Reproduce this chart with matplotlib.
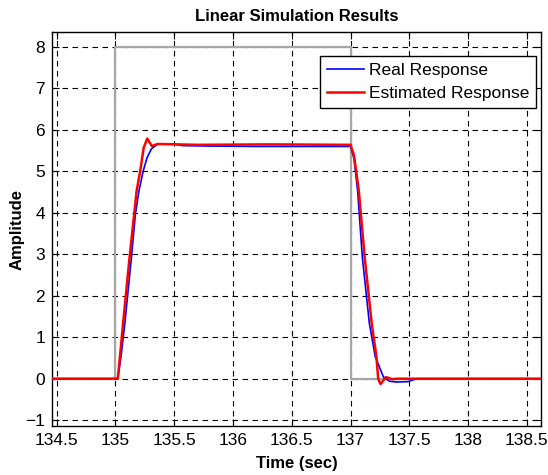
import matplotlib.pyplot as plt

plt.rcParams['font.family'] = ['Liberation Sans', 'DejaVu Sans']

# input step
t_in = [134.46, 135.0, 135.0, 137.0, 137.0, 138.62]
y_in = [0, 0, 8, 8, 0, 0]

# real response
t_real = [134.46, 135.02, 135.05, 135.08, 135.136, 135.17, 135.20, 135.235, 135.27, 135.305,
          135.36, 135.50, 135.57, 135.8, 136.2, 136.6, 136.98, 137.0, 137.03, 137.06, 137.10,
          137.16, 137.21, 137.28, 137.33, 137.39, 137.49, 137.56, 137.8, 138.2, 138.62]
y_real = [0, 0, 0.6, 1.34, 2.93, 3.98, 4.53, 5.0, 5.34, 5.54,
          5.66, 5.66, 5.62, 5.61, 5.60, 5.60, 5.60, 5.60, 5.3, 4.53, 2.93,
          1.33, 0.53, 0.04, -0.06, -0.08, -0.07, 0, 0, 0, 0]

# estimated response
t_est = [134.46, 135.02, 135.065, 135.12, 135.18, 135.21, 135.24, 135.27, 135.31, 135.36,
         135.7, 136.3, 137.0, 137.03, 137.07, 137.12, 137.18, 137.22, 137.235, 137.255,
         137.3, 137.35, 137.4, 138.62]
y_est = [0, 0, 1.34, 2.93, 4.53, 5.0, 5.57, 5.79, 5.61, 5.66,
         5.64, 5.65, 5.64, 5.37, 4.53, 2.93, 1.33, 0.53, 0.0, -0.13,
         0.04, -0.01, 0, 0]

xticks = [134.5, 135, 135.5, 136, 136.5, 137, 137.5, 138, 138.5]
xticklabels = ['134.5', '135', '135.5', '136', '136.5', '137', '137.5', '138', '138.5']
yticks = [-1, 0, 1, 2, 3, 4, 5, 6, 7, 8]

fig = plt.figure(figsize=(5.48, 4.75), dpi=100)
ax = fig.add_axes([52 / 548, 49 / 475, 489 / 548, 394 / 475])

ax.plot(t_in, y_in, color='0.65', lw=1.6, zorder=2)
ax.plot(t_real, y_real, color='blue', lw=1.2, label='Real Response', zorder=3)
ax.plot(t_est, y_est, color='red', lw=1.8, label='Estimated Response', zorder=4)

ax.set_xlim(134.46, 138.62)
ax.set_ylim(-1.14, 8.36)
ax.set_xticks(xticks)
ax.set_xticklabels(xticklabels)
ax.set_yticks(yticks)
ax.tick_params(direction='in', top=True, right=True, length=5, labelsize=12.5, pad=5)
ax.grid(True, color='k', linestyle=(0, (5, 4)), lw=0.8, zorder=1)
for s in ax.spines.values():
    s.set_linewidth(1.0)

ax.set_title('Linear Simulation Results', fontsize=12, fontweight='bold', pad=8)
ax.set_xlabel('Time (sec)', fontsize=12, fontweight='bold', labelpad=6)
ax.set_ylabel('Amplitude', fontsize=12, fontweight='bold')
ax.yaxis.set_label_coords(-0.057, 0.5)

leg = ax.legend(loc='upper right', bbox_to_anchor=(0.99, 0.94), fontsize=12.5, fancybox=False,
                framealpha=1, edgecolor='k', borderpad=0.4, handlelength=2.1,
                handletextpad=0.3, labelspacing=0.45, borderaxespad=0)
leg.get_frame().set_linewidth(1.0)

fig.savefig('out.png', dpi=100)
